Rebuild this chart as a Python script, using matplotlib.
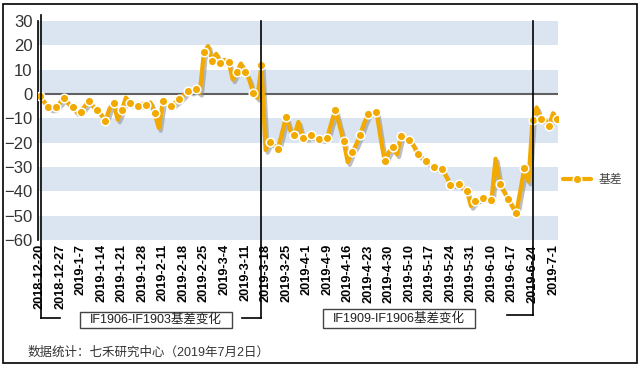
import numpy as np
import matplotlib
matplotlib.use('Agg')
import matplotlib.pyplot as plt
from matplotlib import patheffects as pe
from matplotlib.lines import Line2D
from matplotlib.patches import Rectangle
import matplotlib.transforms as mtransforms

plt.rcParams['font.family'] = ['Liberation Sans', 'Noto Sans CJK SC', 'DejaVu Sans']

# IF basis, one value per trading day (2018-12-20 .. 2019-7-2)
basis = [
    -0.8, -3.0, -5.4, -6.0, -5.5, -3.5, -1.5, -4.0, -5.2, -7.5,
    -7.2, -5.0, -2.9, -5.0, -6.6, -8.5, -11.1, -6.0, -3.9, -10.5,
    -6.6, -1.5, -3.9, -4.0, -5.0, -4.0, -4.7, -3.5, -7.9, -14.0,
    -2.9, -4.0, -4.9, -3.5, -2.2, -0.5, 1.4, 1.0, 1.9, 0.5,
    17.4, 19.7, 13.6, 16.5, 12.9, 14.0, 13.2, 6.0, 9.1, 12.5,
    9.2, 6.0, 0.5, -1.5, 11.8, -23.0, -19.6, -21.0, -22.5, -16.0,
    -9.3, -15.0, -16.9, -11.5, -18.0, -18.0, -17.0, -18.0, -18.3, -18.5,
    -18.0, -12.0, -6.4, -13.0, -19.2, -28.0, -24.0, -21.0, -17.0, -12.0,
    -8.2, -7.5, -7.3, -18.0, -27.6, -24.0, -21.8, -24.8, -17.4, -18.0,
    -19.1, -21.0, -24.7, -26.0, -27.4, -29.0, -30.0, -30.5, -31.0, -34.0,
    -37.2, -37.0, -37.1, -38.5, -39.8, -46.0, -44.0, -43.0, -42.6, -43.0,
    -43.7, -26.6, -36.9, -40.0, -43.0, -46.0, -49.1, -40.0, -30.5, -36.0,
    -10.7, -5.5, -10.4, -10.5, -13.2, -7.9, -10.3,
]

# every 5th trading day is labelled
tick_labels = [
    '2018-12-20', '2018-12-27', '2019-1-7', '2019-1-14', '2019-1-21',
    '2019-1-28', '2019-2-11', '2019-2-18', '2019-2-25', '2019-3-4',
    '2019-3-11', '2019-3-18', '2019-3-25', '2019-4-1', '2019-4-9',
    '2019-4-16', '2019-4-23', '2019-4-30', '2019-5-10', '2019-5-17',
    '2019-5-24', '2019-5-31', '2019-6-10', '2019-6-17', '2019-6-24',
    '2019-7-1',
]

# contract switch points (trading-day index)
switch_idx = [0, 54, 120]
period_names = ['IF1906-IF1903基差变化', 'IF1909-IF1906基差变化']

ORANGE = '#F2A900'
BAND = '#DBE5F1'

W, H = 640, 366
def fx(px):
    return px / W
def fy(py):
    return 1 - py / H

fig = plt.figure(figsize=(W / 100, H / 100), dpi=100)
ax = fig.add_axes([fx(38), fy(240), fx(558) - fx(38), fy(21) - fy(240)])

x = np.arange(len(basis))
y = np.array(basis)

for lo in range(-60, 30, 20):
    ax.axhspan(lo, lo + 10, color=BAND, lw=0, zorder=0)
ax.axhline(0, color='#606060', lw=1.5, zorder=1)

# line with drop shadow, markers on every second day
ax.plot(x, y, color=ORANGE, lw=3, zorder=3,
        path_effects=[pe.SimpleLineShadow(offset=(1.5, -2), shadow_color='#8a8a8a', alpha=0.55),
                      pe.Normal()])
ax.plot(x[::2], y[::2], 'o', color=ORANGE, ms=6.2, mec='white', mew=1.1, zorder=4)

ax.set_xlim(-0.4, len(basis) - 1 + 0.2)
ax.set_ylim(-60, 30)
ax.set_yticks(range(-60, 31, 10))
ax.set_xticks(x[::5][:len(tick_labels)])
ax.set_xticklabels(tick_labels, rotation=90, fontsize=9.2, fontweight='bold')
ax.tick_params(axis='x', length=0, pad=3, colors='black')
ax.tick_params(axis='y', length=0, pad=4, labelsize=12, labelcolor='#333333')
for s in ['top', 'right', 'bottom']:
    ax.spines[s].set_visible(False)
ax.spines['left'].set_color('black')
ax.spines['left'].set_linewidth(1.2)

handle = Line2D([], [], color=ORANGE, lw=3, marker='o', ms=6.2, mec='white', mew=1.1,
                solid_capstyle='round')
ax.legend([handle], ['基差'], loc='center left', bbox_to_anchor=(1.0096, 0.274),
          frameon=False, borderpad=0, borderaxespad=0, handlelength=2.4,
          handletextpad=0.6, prop={'size': 8.5}, labelcolor='#444444')

# period brackets below the axis
tr = mtransforms.blended_transform_factory(ax.transData, fig.transFigure)
lk = dict(color='black', lw=1.2, transform=tr, clip_on=False, zorder=5)
fig.add_artist(Line2D([switch_idx[0] + 0.25] * 2, [fy(15), fy(317.7)], **lk))
fig.add_artist(Line2D([switch_idx[0] + 0.25, switch_idx[0] + 5], [fy(317.7)] * 2, **lk))
fig.add_artist(Line2D([switch_idx[1]] * 2, [fy(21), fy(317.7)], **lk))
fig.add_artist(Line2D([switch_idx[1] - 4.8, switch_idx[1]], [fy(317.7)] * 2, **lk))
fig.add_artist(Line2D([switch_idx[2]] * 2, [fy(21), fy(315)], **lk))
fig.add_artist(Line2D([switch_idx[2] - 6.2, switch_idx[2]], [fy(315)] * 2, **lk))

boxes = [(80, 312, 231.7, 327.7), (322.7, 309.3, 475, 327.7)]
for (x0, y0, x1, y1), name in zip(boxes, period_names):
    fig.add_artist(Rectangle((fx(x0), fy(y1)), fx(x1) - fx(x0), fy(y0) - fy(y1),
                             transform=fig.transFigure, fill=False, ec='#444444', lw=1))
    fig.text((fx(x0) + fx(x1)) / 2, (fy(y0) + fy(y1)) / 2, name, ha='center', va='center',
             fontsize=9, color='#222222')

fig.text(fx(28), fy(353), '数据统计：七禾研究中心（2019年7月2日）', ha='left', va='center',
         fontsize=9, color='#333333')

# outer frame
fig.add_artist(Rectangle((fx(3.3), fy(362.7)), fx(636.7) - fx(3.3), fy(4) - fy(362.7),
                         transform=fig.transFigure, fill=False, ec='black', lw=1.2))

fig.savefig('out.png', dpi=100)
